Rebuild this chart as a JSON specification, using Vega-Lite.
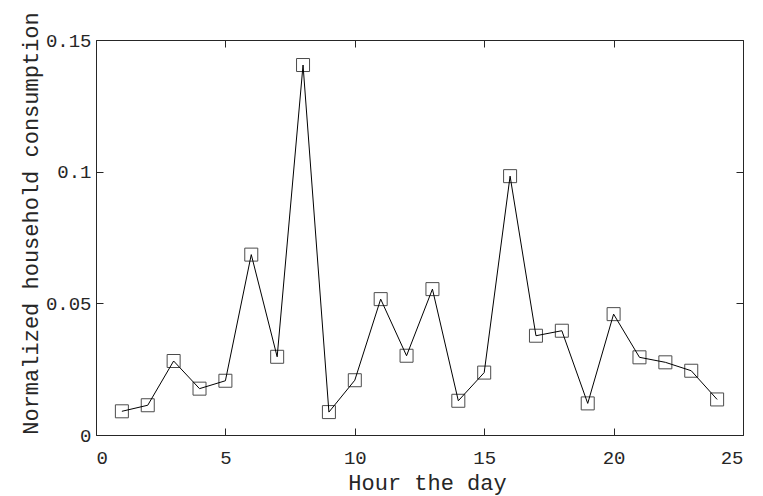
{
  "$schema": "https://vega.github.io/schema/vega-lite/v6.json",
  "width": 647,
  "height": 395,
  "autosize": {"type": "none"},
  "padding": {"left": 96, "top": 40, "right": 20, "bottom": 61},
  "background": "white",
  "config": {
    "view": {"stroke": null},
    "axis": {
      "labelFont": "Liberation Mono",
      "titleFont": "Liberation Mono",
      "labelFontSize": 19,
      "titleFontSize": 22,
      "titleFontWeight": "normal",
      "labelColor": "#262626",
      "titleColor": "#262626",
      "domainColor": "#262626",
      "tickColor": "#262626",
      "grid": false,
      "tickSize": -7,
      "domainWidth": 1,
      "tickWidth": 1
    }
  },
  "data": {
    "values": [
      {"hour": 1, "v": 0.0090},
      {"hour": 2, "v": 0.0113},
      {"hour": 3, "v": 0.0281},
      {"hour": 4, "v": 0.0176},
      {"hour": 5, "v": 0.0206},
      {"hour": 6, "v": 0.0685},
      {"hour": 7, "v": 0.0297},
      {"hour": 8, "v": 0.1405},
      {"hour": 9, "v": 0.0087},
      {"hour": 10, "v": 0.0208},
      {"hour": 11, "v": 0.0516},
      {"hour": 12, "v": 0.0301},
      {"hour": 13, "v": 0.0554},
      {"hour": 14, "v": 0.0130},
      {"hour": 15, "v": 0.0237},
      {"hour": 16, "v": 0.0983},
      {"hour": 17, "v": 0.0377},
      {"hour": 18, "v": 0.0396},
      {"hour": 19, "v": 0.0120},
      {"hour": 20, "v": 0.0459},
      {"hour": 21, "v": 0.0295},
      {"hour": 22, "v": 0.0276},
      {"hour": 23, "v": 0.0244},
      {"hour": 24, "v": 0.0135}
    ]
  },
  "layer": [
    {
      "mark": {"type": "line", "color": "black", "strokeWidth": 1},
      "encoding": {
        "x": {"field": "hour", "type": "quantitative", "scale": {"domain": [0, 25], "nice": false},
          "axis": {"orient": "bottom", "values": [0, 5, 10, 15, 20, 25], "title": "Hour the day",
            "labelPadding": 20, "titleY": 54, "titleBaseline": "alphabetic", "titleX": 331, "titleAnchor": null}},
        "y": {"field": "v", "type": "quantitative", "scale": {"domain": [0, 0.15], "nice": false, "zero": false},
          "axis": {"orient": "left", "values": [0, 0.05, 0.1, 0.15], "format": ".2~f", "title": "Normalized household consumption",
            "labelPadding": 12, "titleX": -59, "titleY": 183, "titleBaseline": "alphabetic", "titleAngle": -90, "titleAlign": "center"}}
      }
    },
    {
      "mark": {"type": "point", "shape": "square", "size": 169, "filled": false, "color": "black", "strokeWidth": 1},
      "encoding": {
        "x": {"field": "hour", "type": "quantitative",
          "axis": {"orient": "top", "values": [0, 5, 10, 15, 20, 25], "labels": false, "title": null}},
        "y": {"field": "v", "type": "quantitative",
          "axis": {"orient": "right", "values": [0, 0.05, 0.1, 0.15], "labels": false, "title": null}}
      }
    }
  ],
  "resolve": {"axis": {"x": "independent", "y": "independent"}}
}
